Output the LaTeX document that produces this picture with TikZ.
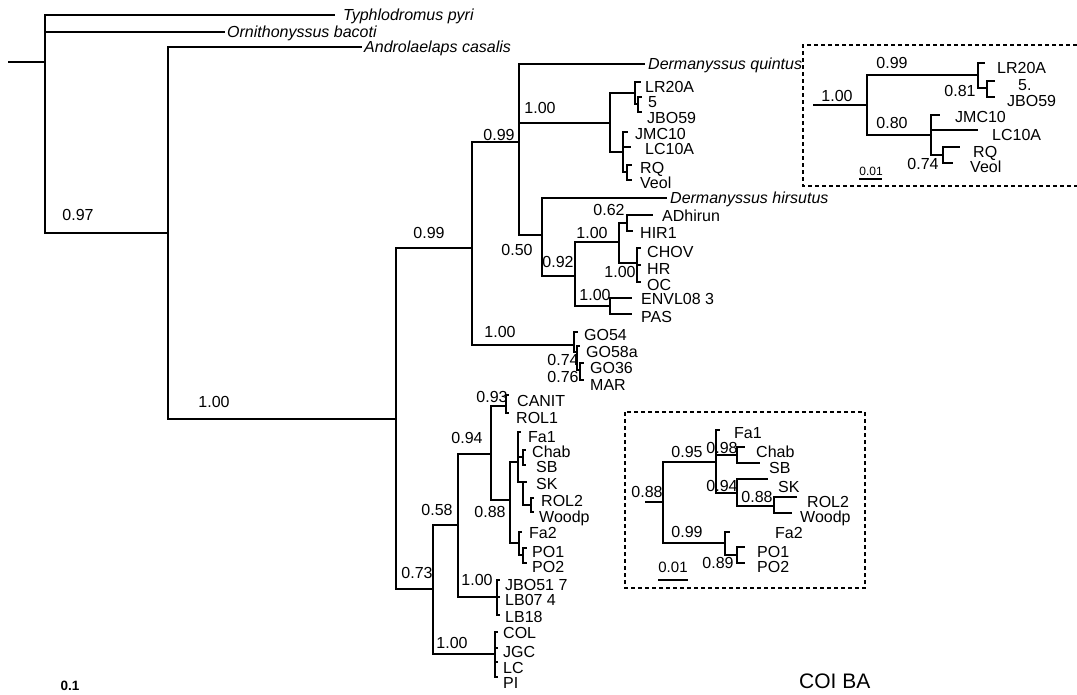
\documentclass[tikz,border=0pt]{standalone}
\usepackage{fontspec}
\setmainfont{Liberation Sans}
\begin{document}
\begin{tikzpicture}[x=1pt,y=-1pt,
  br/.style={line width=1.2pt},
  leaf/.style={anchor=west,inner sep=0pt,text height=11.4pt,text depth=0pt,font=\fontsize{16}{18}\selectfont},
  ileaf/.style={leaf,font=\fontsize{16}{18}\selectfont\itshape},
  sup/.style={anchor=center,inner sep=0pt,text height=11.4pt,text depth=0pt,font=\fontsize{16}{18}\selectfont},
  dbox/.style={line width=1.4pt,dash pattern=on 4pt off 3pt}]
\useasboundingbox (0,0) rectangle (1077,694);

% ---------------- main tree: internal nodes ----------------
\coordinate (r0) at (8,62);
\coordinate (nroot) at (45,62);
\coordinate (n1) at (168,233);
\coordinate (n2) at (396,419);
\coordinate (n3) at (472,248);
\coordinate (n4) at (519,142);
\coordinate (n5) at (610,123);
\coordinate (n6) at (635,93);
\coordinate (n6b) at (638,104);
\coordinate (n7) at (623,152);
\coordinate (n7b) at (627,172);
\coordinate (n8) at (542,235);
\coordinate (n9) at (575,276);
\coordinate (n10) at (619,242);
\coordinate (n11) at (627,223);
\coordinate (n12) at (637,263);
\coordinate (n13) at (610,306);
\coordinate (n14) at (574,345);
\coordinate (n14b) at (577,352);
\coordinate (n14c) at (580,370);
\coordinate (n15) at (433,589);
\coordinate (n16) at (458,525);
\coordinate (n17) at (491,454);
\coordinate (n18) at (506,406);
\coordinate (n19) at (510,500);
\coordinate (n20) at (518,462);
\coordinate (n20b) at (523,457);
\coordinate (n20c) at (523,482);
\coordinate (n20d) at (531,505);
\coordinate (n21) at (519,543);
\coordinate (n21b) at (523,555);
\coordinate (n22) at (497,597);
\coordinate (n23) at (495,654);

% ---------------- main tree: tips ----------------
\coordinate (tT) at (335,15);
\coordinate (tO) at (225,32);
\coordinate (tA) at (362,47);
\coordinate (tDq) at (645,64);
\coordinate (tLR) at (641,82);
\coordinate (t5) at (642,97);
\coordinate (tJBO59) at (642,112);
\coordinate (tJMC) at (628,132);
\coordinate (tLC10) at (631,147);
\coordinate (tRQ) at (632,165);
\coordinate (tVeol) at (632,180);
\coordinate (tDh) at (667,198);
\coordinate (tADh) at (653,215);
\coordinate (tHIR) at (633,231);
\coordinate (tCHOV) at (641,248);
\coordinate (tHR) at (641,265);
\coordinate (tOC) at (641,282);
\coordinate (tENVL) at (632,298);
\coordinate (tPAS) at (632,314);
\coordinate (tGO54) at (578,332);
\coordinate (tGO58) at (580,346);
\coordinate (tGO36) at (584,363);
\coordinate (tMAR) at (584,380);
\coordinate (tCAN) at (509,395);
\coordinate (tROL1) at (509,413);
\coordinate (tFa1) at (521,432);
\coordinate (tChab) at (526,450);
\coordinate (tSB) at (526,465);
\coordinate (tSK) at (527,482);
\coordinate (tROL2) at (534,498);
\coordinate (tWood) at (534,512);
\coordinate (tFa2) at (522,532);
\coordinate (tPO1) at (527,548);
\coordinate (tPO2) at (527,563);
\coordinate (tJBO51) at (500,580);
\coordinate (tLB07) at (500,597);
\coordinate (tLB18) at (500,615);
\coordinate (tCOL) at (498,632);
\coordinate (tJGC) at (498,648);
\coordinate (tLC) at (498,662);
\coordinate (tPI) at (498,677);

% ---------------- main tree: branches ----------------
\draw[br] (r0) -- (nroot);
\draw[br] (nroot) |- (tT);
\draw[br] (nroot) |- (tO);
\draw[br] (nroot) |- (n1);
\draw[br] (n1) |- (tA);
\draw[br] (n1) |- (n2);
\draw[br] (n2) |- (n3);
\draw[br] (n2) |- (n15);
\draw[br] (n3) |- (n4);
\draw[br] (n3) |- (n14);
\draw[br] (n4) |- (tDq);
\draw[br] (n4) |- (n5);
\draw[br] (n4) |- (n8);
\draw[br] (n5) |- (n6);
\draw[br] (n5) |- (n7);
\draw[br] (n6) |- (tLR);
\draw[br] (n6) |- (n6b);
\draw[br] (n6b) |- (t5);
\draw[br] (n6b) |- (tJBO59);
\draw[br] (n7) |- (tJMC);
\draw[br] (n7) |- (tLC10);
\draw[br] (n7) |- (n7b);
\draw[br] (n7b) |- (tRQ);
\draw[br] (n7b) |- (tVeol);
\draw[br] (n8) |- (tDh);
\draw[br] (n8) |- (n9);
\draw[br] (n9) |- (n10);
\draw[br] (n9) |- (n13);
\draw[br] (n10) |- (n11);
\draw[br] (n10) |- (n12);
\draw[br] (n11) |- (tADh);
\draw[br] (n11) |- (tHIR);
\draw[br] (n12) |- (tCHOV);
\draw[br] (n12) |- (tHR);
\draw[br] (n12) |- (tOC);
\draw[br] (n13) |- (tENVL);
\draw[br] (n13) |- (tPAS);
\draw[br] (n14) |- (tGO54);
\draw[br] (n14) |- (n14b);
\draw[br] (n14b) |- (tGO58);
\draw[br] (n14b) |- (n14c);
\draw[br] (n14c) |- (tGO36);
\draw[br] (n14c) |- (tMAR);
\draw[br] (n15) |- (n16);
\draw[br] (n15) |- (n23);
\draw[br] (n16) |- (n17);
\draw[br] (n16) |- (n22);
\draw[br] (n17) |- (n18);
\draw[br] (n17) |- (n19);
\draw[br] (n18) |- (tCAN);
\draw[br] (n18) |- (tROL1);
\draw[br] (n19) |- (n20);
\draw[br] (n19) |- (n21);
\draw[br] (n20) |- (tFa1);
\draw[br] (n20) |- (n20b);
\draw[br] (n20) |- (n20c);
\draw[br] (n20b) |- (tChab);
\draw[br] (n20b) |- (tSB);
\draw[br] (n20c) |- (tSK);
\draw[br] (n20c) |- (n20d);
\draw[br] (n20d) |- (tROL2);
\draw[br] (n20d) |- (tWood);
\draw[br] (n21) |- (tFa2);
\draw[br] (n21) |- (n21b);
\draw[br] (n21b) |- (tPO1);
\draw[br] (n21b) |- (tPO2);
\draw[br] (n22) |- (tJBO51);
\draw[br] (n22) |- (tLB07);
\draw[br] (n22) |- (tLB18);
\draw[br] (n23) |- (tCOL);
\draw[br] (n23) |- (tJGC);
\draw[br] (n23) |- (tLC);
\draw[br] (n23) |- (tPI);

% ---------------- main tree: taxon labels ----------------
\node[ileaf] (xT) at (343,15) {Typhlodromus pyri};
\node[ileaf] (xO) at (227,32) {Ornithonyssus bacoti};
\node[ileaf] (xA) at (364,47) {Androlaelaps casalis};
\node[ileaf] (xDq) at (648,64) {Dermanyssus quintus};
\node[leaf] (xLR) at (645,87) {LR20A};
\node[leaf] (x5) at (648,102) {5};
\node[leaf] (xJBO59) at (647,118) {JBO59};
\node[leaf] (xJMC) at (635,134) {JMC10};
\node[leaf] (xLC10) at (645,149) {LC10A};
\node[leaf] (xRQ) at (640,168) {RQ};
\node[leaf] (xVeol) at (640,183) {Veol};
\node[ileaf] (xDh) at (670,198) {Dermanyssus hirsutus};
\node[leaf] (xADh) at (662,216) {ADhirun};
\node[leaf] (xHIR) at (640,233) {HIR1};
\node[leaf] (xCHOV) at (647,252) {CHOV};
\node[leaf] (xHR) at (647,269) {HR};
\node[leaf] (xOC) at (647,285) {OC};
\node[leaf] (xENVL) at (641,299) {ENVL08 3};
\node[leaf] (xPAS) at (641,317) {PAS};
\node[leaf] (xGO54) at (584,335) {GO54};
\node[leaf] (xGO58) at (586,352) {GO58a};
\node[leaf] (xGO36) at (590,368) {GO36};
\node[leaf] (xMAR) at (590,385) {MAR};
\node[leaf] (xCAN) at (517,401) {CANIT};
\node[leaf] (xROL1) at (516,418) {ROL1};
\node[leaf] (xFa1) at (528,437) {Fa1};
\node[leaf] (xChab) at (532,452) {Chab};
\node[leaf] (xSB) at (536,467) {SB};
\node[leaf] (xSK) at (536,484) {SK};
\node[leaf] (xROL2) at (541,501) {ROL2};
\node[leaf] (xWood) at (539,517) {Woodp};
\node[leaf] (xFa2) at (529,533) {Fa2};
\node[leaf] (xPO1) at (532,552) {PO1};
\node[leaf] (xPO2) at (532,567) {PO2};
\node[leaf] (xJBO51) at (505,585) {JBO51 7};
\node[leaf] (xLB07) at (505,600) {LB07 4};
\node[leaf] (xLB18) at (505,617) {LB18};
\node[leaf] (xCOL) at (503,633) {COL};
\node[leaf] (xJGC) at (503,652) {JGC};
\node[leaf] (xLC) at (503,668) {LC};
\node[leaf] (xPI) at (503,683) {PI};

% ---------------- main tree: support values ----------------
\node[sup] (s1) at (78,215) {0.97};
\node[sup] (s2) at (214,402) {1.00};
\node[sup] (s3) at (429,233) {0.99};
\node[sup] (s4) at (499,135) {0.99};
\node[sup] (s5) at (540,108) {1.00};
\node[sup] (s6) at (517,250) {0.50};
\node[sup] (s7) at (558,262) {0.92};
\node[sup] (s8) at (592,233) {1.00};
\node[sup] (s9) at (609,210) {0.62};
\node[sup] (s10) at (620,272) {1.00};
\node[sup] (s11) at (595,295) {1.00};
\node[sup] (s12) at (500,332) {1.00};
\node[sup] (s13) at (563,360) {0.74};
\node[sup] (s14) at (563,377) {0.76};
\node[sup] (s15) at (492,397) {0.93};
\node[sup] (s16) at (467,438) {0.94};
\node[sup] (s17) at (490,512) {0.88};
\node[sup] (s18) at (437,510) {0.58};
\node[sup] (s19) at (417,573) {0.73};
\node[sup] (s20) at (477,580) {1.00};
\node[sup] (s21) at (452,643) {1.00};

% ---------------- inset 1 ----------------
\draw[dbox] (1077,45) -- (803,45) -- (803,186) -- (1077,186);
\coordinate (i1r) at (813,105);
\coordinate (i1m) at (867,105);
\coordinate (i1a) at (978,75);
\coordinate (i1ab) at (987,88);
\coordinate (i1b) at (931,135);
\coordinate (i1bb) at (943,155);
\coordinate (i1tLR) at (985,63);
\coordinate (i1t5) at (995,81);
\coordinate (i1tJBO) at (995,97);
\coordinate (i1tJMC) at (940,115);
\coordinate (i1tLC) at (978,130);
\coordinate (i1tRQ) at (960,147);
\coordinate (i1tVeol) at (953,163);
\draw[br] (i1r) -- (i1m);
\draw[br] (i1m) |- (i1a);
\draw[br] (i1m) |- (i1b);
\draw[br] (i1a) |- (i1tLR);
\draw[br] (i1a) |- (i1ab);
\draw[br] (i1ab) |- (i1t5);
\draw[br] (i1ab) |- (i1tJBO);
\draw[br] (i1b) |- (i1tJMC);
\draw[br] (i1b) |- (i1tLC);
\draw[br] (i1b) |- (i1bb);
\draw[br] (i1bb) |- (i1tRQ);
\draw[br] (i1bb) |- (i1tVeol);
\node[leaf] (i1xLR) at (997,68) {LR20A};
\node[leaf] (i1x5) at (1018,85) {5.};
\node[leaf] (i1xJBO) at (1007,101) {JBO59};
\node[leaf] (i1xJMC) at (955,117) {JMC10};
\node[leaf] (i1xLC) at (992,135) {LC10A};
\node[leaf] (i1xRQ) at (973,152) {RQ};
\node[leaf] (i1xVeol) at (970,167) {Veol};
\node[sup] (i1s1) at (837,96) {1.00};
\node[sup] (i1s2) at (892,63) {0.99};
\node[sup] (i1s3) at (960,91) {0.81};
\node[sup] (i1s4) at (892,123) {0.80};
\node[sup] (i1s5) at (923,164) {0.74};
\coordinate (i1sbL) at (859,179);
\coordinate (i1sbR) at (882,179);
\draw[br] (i1sbL) -- (i1sbR);
\node[sup,font=\fontsize{12}{13}\selectfont,text height=8.6pt] (i1sb) at (871,171) {0.01};

% ---------------- inset 2 ----------------
\draw[dbox] (625,412) rectangle (865,588);
\coordinate (i2r) at (645,502);
\coordinate (i2m) at (663,502);
\coordinate (i2c) at (716,462);
\coordinate (i2cb) at (737,455);
\coordinate (i2cc) at (737,493);
\coordinate (i2cd) at (774,506);
\coordinate (i2d) at (725,543);
\coordinate (i2db) at (737,555);
\coordinate (i2tFa1) at (720,430);
\coordinate (i2tChab) at (745,447);
\coordinate (i2tSB) at (760,463);
\coordinate (i2tSK) at (768,479);
\coordinate (i2tROL2) at (797,497);
\coordinate (i2tWood) at (792,513);
\coordinate (i2tFa2) at (730,532);
\coordinate (i2tPO1) at (745,547);
\coordinate (i2tPO2) at (745,563);
\draw[br] (i2r) -- (i2m);
\draw[br] (i2m) |- (i2c);
\draw[br] (i2m) |- (i2d);
\draw[br] (i2c) |- (i2tFa1);
\draw[br] (i2c) |- (i2cb);
\draw[br] (i2c) |- (i2cc);
\draw[br] (i2cb) |- (i2tChab);
\draw[br] (i2cb) |- (i2tSB);
\draw[br] (i2cc) |- (i2tSK);
\draw[br] (i2cc) |- (i2cd);
\draw[br] (i2cd) |- (i2tROL2);
\draw[br] (i2cd) |- (i2tWood);
\draw[br] (i2d) |- (i2tFa2);
\draw[br] (i2d) |- (i2db);
\draw[br] (i2db) |- (i2tPO1);
\draw[br] (i2db) |- (i2tPO2);
\node[leaf] (i2xFa1) at (734,433) {Fa1};
\node[leaf] (i2xChab) at (756,452) {Chab};
\node[leaf] (i2xSB) at (769,468) {SB};
\node[leaf] (i2xSK) at (778,487) {SK};
\node[leaf] (i2xROL2) at (807,502) {ROL2};
\node[leaf] (i2xWood) at (800,517) {Woodp};
\node[leaf] (i2xFa2) at (775,533) {Fa2};
\node[leaf] (i2xPO1) at (757,552) {PO1};
\node[leaf] (i2xPO2) at (757,567) {PO2};
\node[sup] (i2s1) at (647,492) {0.88};
\node[sup] (i2s2) at (687,452) {0.95};
\node[sup] (i2s3) at (722,448) {0.98};
\node[sup] (i2s4) at (722,486) {0.94};
\node[sup] (i2s5) at (757,497) {0.88};
\node[sup] (i2s6) at (687,532) {0.99};
\node[sup] (i2s7) at (718,563) {0.89};
\coordinate (i2sbL) at (658,580);
\coordinate (i2sbR) at (688,580);
\draw[br] (i2sbL) -- (i2sbR);
\node[sup,font=\fontsize{15}{17}\selectfont] (i2sb) at (673,567) {0.01};

% ---------------- bottom texts ----------------
\node[sup,font=\fontsize{13.5}{15}\selectfont\bfseries,text height=9.7pt] (scale) at (70,686) {0.1};
\node[anchor=west,inner sep=0pt,font=\fontsize{21}{23}\selectfont] (title) at (799,681) {COI BA};
\end{tikzpicture}
\end{document}
